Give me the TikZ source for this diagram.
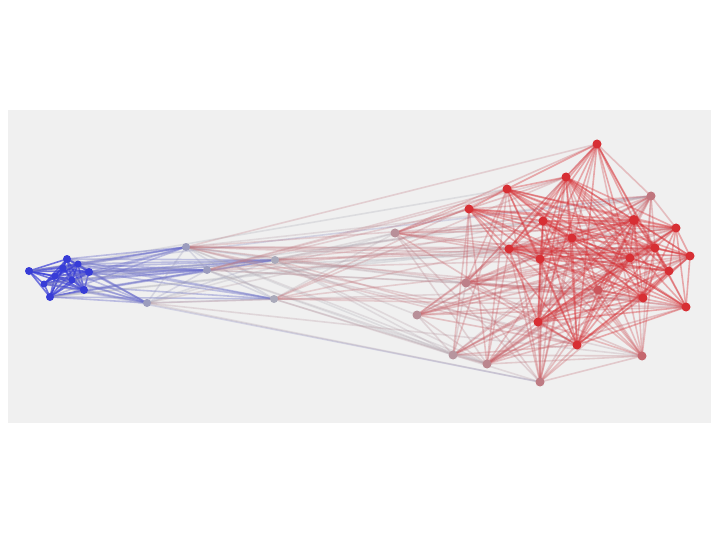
\documentclass[tikz,border=0pt]{standalone}
\pgfdeclarelayer{back}
\pgfdeclarelayer{bg}
\pgfsetlayers{back,bg,main}
\definecolor{panel}{RGB}{240,240,240}
\newcommand\mkcol[2]{%
  \pgfmathsetmacro\myT{#2}%
  \ifdim\myT pt<0.5pt
    \pgfmathsetmacro\myS{\myT/0.5}%
    \pgfmathtruncatemacro\myR{55+120*\myS}%
    \pgfmathtruncatemacro\myG{60+115*\myS}%
    \pgfmathtruncatemacro\myB{215-30*\myS}%
  \else
    \pgfmathsetmacro\myS{(\myT-0.5)/0.5}%
    \pgfmathtruncatemacro\myR{175+40*\myS}%
    \pgfmathtruncatemacro\myG{175-128*\myS}%
    \pgfmathtruncatemacro\myB{185-133*\myS}%
  \fi
  \definecolor{#1}{RGB}{\myR,\myG,\myB}%
}
% edge probabilities per group pair
\expandafter\def\csname pp00\endcsname{1.0}
\expandafter\def\csname pp01\endcsname{0.7}
\expandafter\def\csname pp02\endcsname{0.1}
\expandafter\def\csname pp03\endcsname{0.04}
\expandafter\def\csname pp11\endcsname{0.8}
\expandafter\def\csname pp12\endcsname{0.55}
\expandafter\def\csname pp13\endcsname{0.25}
\expandafter\def\csname pp22\endcsname{0.55}
\expandafter\def\csname pp23\endcsname{0.6}
\expandafter\def\csname pp33\endcsname{0.75}
% edge opacities per group pair
\expandafter\def\csname po00\endcsname{0.7}
\expandafter\def\csname po01\endcsname{0.4}
\expandafter\def\csname po02\endcsname{0.3}
\expandafter\def\csname po03\endcsname{0.3}
\expandafter\def\csname po11\endcsname{0.3}
\expandafter\def\csname po12\endcsname{0.28}
\expandafter\def\csname po13\endcsname{0.28}
\expandafter\def\csname po22\endcsname{0.3}
\expandafter\def\csname po23\endcsname{0.32}
\expandafter\def\csname po33\endcsname{0.38}
\tikzset{
  vtx/.style={circle, inner sep=0pt, minimum size=8pt, draw=none},
  edge/.style={line width=1.6pt, line cap=round}
}
\begin{document}
\begin{tikzpicture}[x=1pt,y=-1pt]
\useasboundingbox (0,0) rectangle (720,540);
\begin{pgfonlayer}{back}
\fill[white] (0,0) rectangle (720,540);
\fill[panel] (8,110) rectangle (711,423);
\end{pgfonlayer}
\foreach \i/\x/\y/\g/\vt/\sz in {
 1/29/271/0/0/8, 2/67/259/0/0/8, 3/89/272/0/0/8, 4/84/290/0/0/8, 5/50/297/0/0/8,
 6/55/276/0/0/7, 7/63/268/0/0/7, 8/72/280/0/0/7, 9/44/284/0/0/7, 10/78/264/0/0/7,
 11/186/247/1/0.42/8, 12/207/270/1/0.42/8, 13/147/303/1/0.42/8, 14/275/260/1/0.48/8, 15/274/299/1/0.48/8,
 16/395/233/2/0.62/9, 17/417/315/2/0.62/9, 18/466/283/2/0.68/9, 19/453/355/2/0.6/9,
 20/487/364/2/0.66/9, 21/540/382/2/0.7/9, 22/651/196/2/0.72/9, 23/642/356/2/0.78/9,
 24/597/144/3/1/9, 25/566/177/3/1/9, 26/507/189/3/1/9, 27/469/209/3/1/9, 28/543/221/3/1/9,
 29/634/220/3/1/10, 30/676/228/3/1/9, 31/572/238/3/1/9, 32/509/249/3/1/9, 33/655/248/3/1/9,
 34/690/256/3/1/9, 35/540/259/3/1/9, 36/630/258/3/1/9, 37/669/271/3/1/9, 38/598/290/3/0.85/9,
 39/643/298/3/1/9, 40/686/307/3/1/9, 41/538/322/3/1/9, 42/577/345/3/1/9}{
  \mkcol{nc}{\vt}
  \node[vtx, fill=nc, minimum size=\sz pt] (n\i) at (\x,\y) {};
  \expandafter\xdef\csname ng\i\endcsname{\g}
  \expandafter\xdef\csname nt\i\endcsname{\vt}
}
\begin{pgfonlayer}{bg}
\foreach \i in {1,...,41}{
  \pgfmathtruncatemacro\myIp{\i+1}
  \foreach \j in {\myIp,...,42}{
    \edef\myGi{\csname ng\i\endcsname}\edef\myGj{\csname ng\j\endcsname}
    \pgfmathtruncatemacro\myGa{min(\myGi,\myGj)}
    \pgfmathtruncatemacro\myGb{max(\myGi,\myGj)}
    \edef\myP{\csname pp\myGa\myGb\endcsname}
    \edef\myOp{\csname po\myGa\myGb\endcsname}
    \pgfmathsetmacro\myRnd{mod(mod(\i*\i,101)*11+mod(\j*\j,101)*7+mod(\i*\j,101)*3+\j*5,101)/101}
    \pgfmathtruncatemacro\myOk{\myRnd<\myP ? 1 : 0}
    \ifnum\myOk=1
      \mkcol{ec}{(\csname nt\i\endcsname+\csname nt\j\endcsname)/2}
      \draw[edge, ec, opacity=\myOp] (n\i.center) -- (n\j.center);
    \fi
  }
}
\end{pgfonlayer}
\end{tikzpicture}
\end{document}
